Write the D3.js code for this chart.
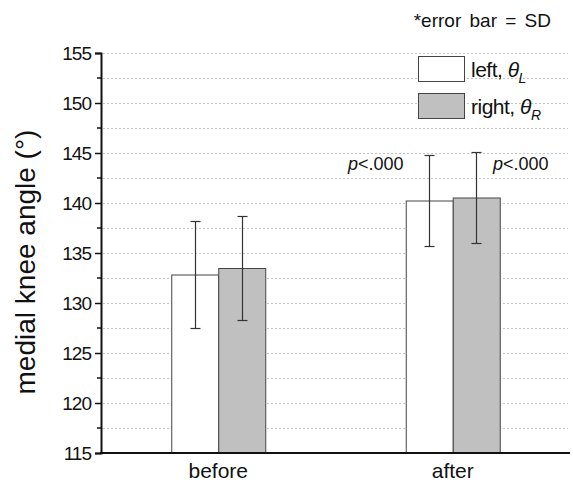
<!DOCTYPE html>
<html>
<head>
<meta charset="utf-8" />
<script src="https://d3js.org/d3.v7.min.js"></script>
<style>
    body, html { margin: 0; padding: 0; background: #fff; }
    text { font-family: Arial, "Liberation Sans", sans-serif; fill: #111; }
</style>
</head>
<body>
<div id="chart"></div>
<script>
    // data
    const groups = ["before", "after"];
    const seriesNames = ["left", "right"];
    const leftMean = [132.85, 140.25];
    const leftSD = [5.35, 4.55];
    const rightMean = [133.5, 140.55];
    const rightSD = [5.2, 4.55];
    const yTicks = [115, 120, 125, 130, 135, 140, 145, 150, 155];
    const pLabels = ["p<.000", "p<.000"];

    const width = 573, height = 483;
    const margin = { top: 53, right: 3, bottom: 30, left: 101 };

    const svg = d3.select("#chart").append("svg")
        .attr("width", width)
        .attr("height", height);

    const x = d3.scalePoint()
        .domain(groups)
        .range([margin.left, width - margin.right])
        .padding(0.5);
    const y = d3.scaleLinear()
        .domain([115, 155])
        .range([height - margin.bottom, margin.top]);
    const barW = 47;

    // dotted gridlines every 2.5
    const gridVals = d3.range(117.5, 155.1, 2.5);
    svg.append("g").selectAll("line")
        .data(gridVals)
        .enter().append("line")
        .attr("x1", margin.left + 2)
        .attr("x2", width - 5)
        .attr("y1", d => y(d) + 0.5)
        .attr("y2", d => y(d) + 0.5)
        .attr("stroke", "#c4c4c4")
        .attr("stroke-width", 1)
        .attr("stroke-dasharray", "2,2");

    // bars
    const rows = [];
    groups.forEach((g, i) => {
        rows.push({ group: g, s: 0, mean: leftMean[i], sd: leftSD[i] });
        rows.push({ group: g, s: 1, mean: rightMean[i], sd: rightSD[i] });
    });
    const fills = ["#ffffff", "#c0c0c0"];
    const bx = d => x(d.group) - barW + d.s * barW;

    svg.append("g").selectAll("rect")
        .data(rows)
        .enter().append("rect")
        .attr("x", d => bx(d) + 0.5)
        .attr("y", d => y(d.mean) + 0.5)
        .attr("width", barW)
        .attr("height", d => y(115) - y(d.mean))
        .attr("fill", d => fills[d.s])
        .attr("stroke", "#444")
        .attr("stroke-width", 1);

    // error bars
    const eb = svg.append("g").attr("stroke", "#333").attr("stroke-width", 1.2);
    rows.forEach(d => {
        const cx = Math.round(bx(d) + barW / 2) + 0.5;
        eb.append("line").attr("x1", cx).attr("x2", cx)
            .attr("y1", y(d.mean + d.sd)).attr("y2", y(d.mean - d.sd));
        [d.mean + d.sd, d.mean - d.sd].forEach(v => {
            eb.append("line").attr("x1", cx - 5).attr("x2", cx + 5)
                .attr("y1", Math.round(y(v)) + 0.5).attr("y2", Math.round(y(v)) + 0.5);
        });
    });

    // y axis with minor ticks
    const yAxis = svg.append("g")
        .attr("transform", `translate(${margin.left},0)`)
        .call(d3.axisLeft(y).tickValues(yTicks).tickSize(6).tickPadding(4));
    yAxis.select(".domain").attr("stroke", "#111").attr("stroke-width", 2);
    yAxis.selectAll(".tick line").attr("stroke", "#111").attr("stroke-width", 1.5);
    yAxis.selectAll(".tick text")
        .attr("font-size", 19)
        .attr("letter-spacing", -1)
        .attr("font-family", "Arial, 'Liberation Sans', sans-serif")
        .attr("fill", "#111");
    svg.append("g").selectAll("line")
        .data(d3.range(117.5, 155, 5))
        .enter().append("line")
        .attr("x1", margin.left - 4).attr("x2", margin.left)
        .attr("y1", d => y(d)).attr("y2", d => y(d))
        .attr("stroke", "#111").attr("stroke-width", 1.5);

    // x axis
    svg.append("line")
        .attr("x1", margin.left - 1).attr("x2", width - 3)
        .attr("y1", y(115)).attr("y2", y(115))
        .attr("stroke", "#111").attr("stroke-width", 2);
    svg.append("g").selectAll("text")
        .data(groups)
        .enter().append("text")
        .attr("x", d => x(d))
        .attr("y", 478)
        .attr("text-anchor", "middle")
        .attr("font-size", 21)
        .text(d => d);

    // axis title
    svg.append("text")
        .attr("transform", "translate(35,262) rotate(-90)")
        .attr("text-anchor", "middle")
        .attr("font-size", 28)
        .text("medial knee angle (°)");

    // p labels
    [348, 493].forEach((px, i) => {
        const t = svg.append("text").attr("x", px).attr("y", 170).attr("font-size", 18);
        t.append("tspan").attr("font-style", "italic").text(pLabels[i].slice(0, 1));
        t.append("tspan").text(pLabels[i].slice(1));
    });

    // note
    svg.append("text")
        .attr("x", 551).attr("y", 27)
        .attr("text-anchor", "end")
        .attr("font-size", 19)
        .attr("word-spacing", 3)
        .attr("font-family", "'Noto Sans', sans-serif")
        .text("*error bar = SD");

    // legend
    const legend = svg.append("g");
    const subs = ["L", "R"];
    seriesNames.forEach((name, i) => {
        const ly = 56 + i * 37;
        legend.append("rect")
            .attr("x", 418.5).attr("y", ly + 0.5)
            .attr("width", 46).attr("height", 25)
            .attr("fill", fills[i]).attr("stroke", "#444");
        const t = legend.append("text")
            .attr("x", 471).attr("y", ly + 21)
            .attr("font-size", 21)
            .attr("letter-spacing", -0.5);
        t.append("tspan").text(name + ", ");
        t.append("tspan").attr("font-style", "italic").text("θ");
        t.append("tspan").attr("font-style", "italic").attr("font-size", 14).attr("dy", 6).text(subs[i]);
    });
</script>
</body>
</html>
